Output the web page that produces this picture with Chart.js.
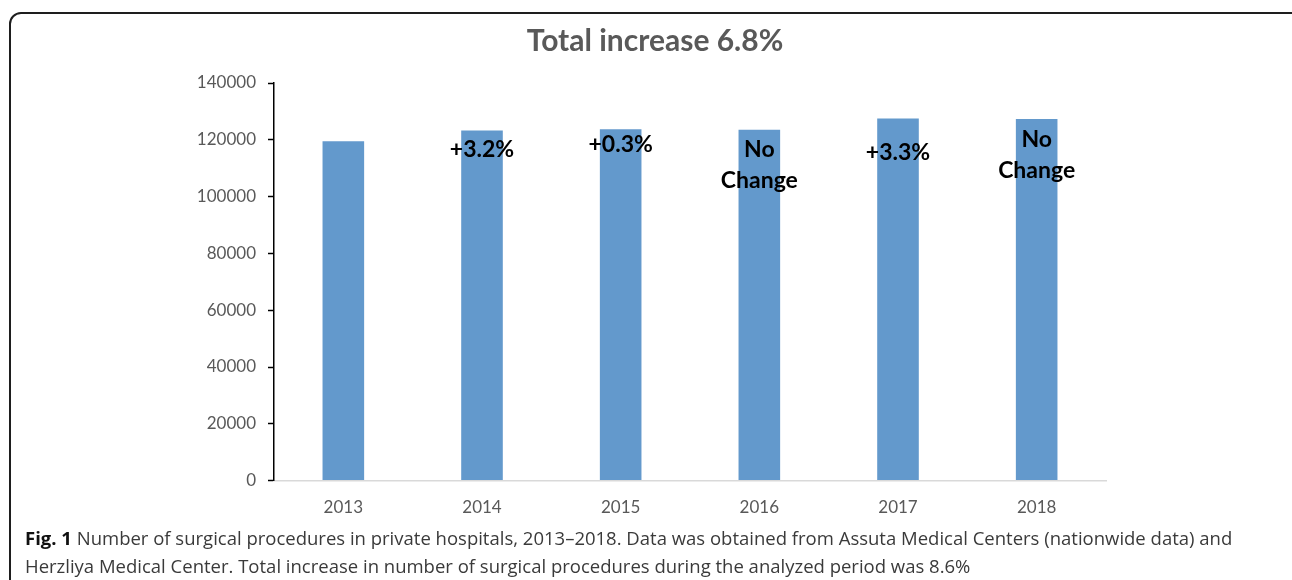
<!DOCTYPE html>
<html>
<head>
<meta charset="utf-8">
<script src="https://cdn.jsdelivr.net/npm/chart.js@4/dist/chart.umd.min.js"></script>
<style>
  html, body { margin: 0; padding: 0; background: #fff; width: 1292px; height: 580px; overflow: hidden; }
  #frame {
    position: absolute; left: 9px; top: 12px; width: 1300px; height: 620px;
    border: 2px solid #1e1e1e; border-radius: 12px; box-sizing: border-box;
  }
  #wrap { position: absolute; left: 0; top: 0; width: 1292px; height: 534px; }
  #caption {
    position: absolute; left: 25px; top: 524px; white-space: nowrap;
    font-family: "Open Sans", sans-serif; font-size: 18.5px; line-height: 28px; color: #3a3a3a;
  }
  #caption b { color: #111; }
</style>
</head>
<body>
<div id="frame"></div>
<div id="wrap"><canvas id="chart"></canvas></div>
<div id="caption"><b>Fig. 1</b> Number of surgical procedures in private hospitals, 2013–2018. Data was obtained from Assuta Medical Centers (nationwide data) and<br>Herzliya Medical Center. Total increase in number of surgical procedures during the analyzed period was 8.6%</div>
<script>
// values
const years = ['2013', '2014', '2015', '2016', '2017', '2018'];
const procedures = [119500, 123300, 123700, 123500, 127500, 127300];
const changeLabels = [[], ['+3.2%'], ['+0.3%'], ['No', 'Change'], ['+3.3%'], ['No', 'Change']];
// label baseline distance below the bar top (placed by hand in the original)
const labelDrop = [0, 27, 23, 27, 41, 28];
const yTicks = [0, 20000, 40000, 60000, 80000, 100000, 120000, 140000];

const barLabels = {
    id: 'barLabels',
    afterDatasetsDraw(chart) {
        const ctx = chart.ctx;
        const bars = chart.getDatasetMeta(0).data;
        ctx.save();
        ctx.font = 'bold 23px Lato';
        ctx.fillStyle = '#000';
        ctx.textAlign = 'center';
        ctx.textBaseline = 'alphabetic';
        bars.forEach((bar, i) => {
            changeLabels[i].forEach((line, k) => {
                ctx.fillText(line, bar.x, bar.y + labelDrop[i] + k * 31);
            });
        });
        ctx.restore();
    }
};

// the title in the original sits a bit right of the layout box centre
const titleShift = {
    id: 'titleShift',
    afterLayout(chart) {
        chart.titleBlock.left += 7;
        chart.titleBlock.right += 7;
    }
};

new Chart(document.getElementById('chart'), {
    type: 'bar',
    data: {
        labels: years,
        datasets: [{
            data: procedures,
            backgroundColor: '#6399cc',
            barPercentage: 0.3,
            categoryPercentage: 1.0
        }]
    },
    options: {
        responsive: true,
        maintainAspectRatio: false,
        animation: false,
        layout: { padding: { left: 190, right: 186, top: 0, bottom: 7 } },
        plugins: {
            legend: { display: false },
            tooltip: { enabled: false },
            title: {
                display: true,
                text: 'Total increase 6.8%',
                color: '#595959',
                font: { family: 'Lato', size: 30, weight: 'bold' },
                padding: { top: 23, bottom: 24 }
            }
        },
        scales: {
            x: {
                grid: { display: false },
                border: { color: '#d9d9d9', width: 1.5 },
                ticks: { color: '#595959', font: { family: 'Lato', size: 17 }, padding: 9 }
            },
            y: {
                min: 0,
                max: 140000,
                afterBuildTicks: (scale) => { scale.ticks = yTicks.map(v => ({ value: v })); },
                afterFit: (scale) => { scale.width = 84; },
                grid: { drawOnChartArea: false, drawTicks: true, tickLength: 6, tickColor: '#000', tickWidth: 1.5 },
                border: { color: '#000', width: 1.5 },
                ticks: {
                    color: '#595959',
                    font: { family: 'Lato', size: 17 },
                    padding: 12,
                    callback: (v) => String(v)
                }
            }
        }
    },
    plugins: [barLabels, titleShift]
});
</script>
</body>
</html>
